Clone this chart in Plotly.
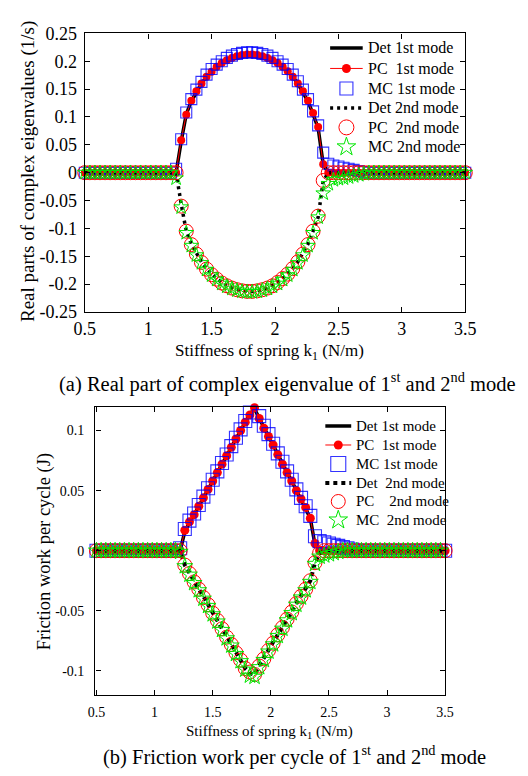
import plotly.graph_objects as go

# ---------------- data ----------------
k1 = [0.5, 0.54, 0.58, 0.62, 0.66, 0.7, 0.74, 0.78, 0.82, 0.86, 0.9, 0.94, 0.98, 1.02, 1.06, 1.1,
      1.14, 1.18, 1.22, 1.26, 1.3, 1.34, 1.38, 1.42, 1.46, 1.5, 1.54, 1.58, 1.62, 1.66, 1.7, 1.74,
      1.78, 1.82, 1.86, 1.9, 1.94, 1.98, 2.02, 2.06, 2.1, 2.14, 2.18, 2.22, 2.26, 2.3, 2.34, 2.38,
      2.42, 2.46, 2.5, 2.54, 2.58, 2.62, 2.66, 2.7, 2.74, 2.78, 2.82, 2.86, 2.9, 2.94, 2.98, 3.02,
      3.06, 3.1, 3.14, 3.18, 3.22, 3.26, 3.3, 3.34, 3.38, 3.42, 3.46, 3.5]

# (a) real part of eigenvalues
det_1st_a = [0.0] * 18 + [0.0, 0.056, 0.105, 0.128, 0.145, 0.160, 0.172, 0.182, 0.190, 0.197, 0.202, 0.207,
                          0.210, 0.212, 0.213, 0.213, 0.212, 0.210, 0.207, 0.202, 0.197, 0.190, 0.182, 0.172,
                          0.160, 0.145, 0.128, 0.105, 0.080, 0.015] + [0.0] * 28
pc_1st_a = [0.0] * 18 + [0.0, 0.058, 0.104, 0.129, 0.146, 0.160, 0.172, 0.181, 0.190, 0.197, 0.202, 0.206,
                         0.209, 0.211, 0.212, 0.212, 0.211, 0.209, 0.206, 0.202, 0.197, 0.190, 0.182, 0.172,
                         0.160, 0.146, 0.129, 0.107, 0.082, 0.015] + [0.0] * 28
mc_1st_a = [0.0] * 18 + [0.007, 0.060, 0.108, 0.132, 0.149, 0.163, 0.176, 0.186, 0.194, 0.200, 0.206, 0.210,
                         0.213, 0.215, 0.216, 0.216, 0.215, 0.213, 0.210, 0.206, 0.200, 0.194, 0.186, 0.176,
                         0.164, 0.149, 0.132, 0.110, 0.085, 0.036, 0.016, 0.013, 0.011, 0.009, 0.007, 0.005,
                         0.003, 0.001] + [0.0] * 20
det_2nd_a = [0.0] * 18 + [0.0, -0.056, -0.105, -0.128, -0.145, -0.160, -0.172, -0.182, -0.190, -0.197, -0.202,
                          -0.207, -0.210, -0.212, -0.213, -0.213, -0.212, -0.210, -0.207, -0.202, -0.197,
                          -0.190, -0.182, -0.172, -0.160, -0.145, -0.128, -0.105, -0.080, -0.015] + [0.0] * 28
pc_2nd_a = [0.0] * 18 + [0.0, -0.060, -0.105, -0.129, -0.146, -0.161, -0.173, -0.183, -0.191, -0.198, -0.203,
                         -0.207, -0.210, -0.212, -0.213, -0.213, -0.212, -0.210, -0.207, -0.203, -0.197,
                         -0.190, -0.182, -0.172, -0.160, -0.146, -0.129, -0.105, -0.078, -0.014] + [0.0] * 28
mc_2nd_a = [0.0] * 18 + [-0.010, -0.062, -0.108, -0.131, -0.148, -0.162, -0.174, -0.184, -0.192, -0.199, -0.204,
                         -0.208, -0.211, -0.213, -0.214, -0.214, -0.213, -0.211, -0.208, -0.204, -0.199,
                         -0.192, -0.184, -0.174, -0.162, -0.148, -0.131, -0.108, -0.080, -0.037, -0.020,
                         -0.013, -0.011, -0.010, -0.008, -0.006, -0.004, -0.002] + [0.0] * 20

# (b) friction work per cycle
det_1st_b = [0.0] * 18 + [0.0, 0.016, 0.023, 0.030, 0.037, 0.044, 0.051, 0.058, 0.065, 0.072, 0.079, 0.086,
                          0.093, 0.100, 0.107, 0.114, 0.118, 0.110, 0.103, 0.095, 0.088, 0.080, 0.073, 0.065,
                          0.058, 0.050, 0.043, 0.035, 0.027, 0.005] + [0.0] * 28
pc_1st_b = [0.0] * 18 + [0.0, 0.017, 0.024, 0.030, 0.037, 0.044, 0.051, 0.058, 0.065, 0.072, 0.079, 0.086,
                         0.093, 0.100, 0.107, 0.113, 0.119, 0.110, 0.102, 0.095, 0.088, 0.080, 0.072, 0.065,
                         0.058, 0.050, 0.043, 0.036, 0.027, 0.006] + [0.0] * 28
mc_1st_b = [0.0] * 18 + [0.002, 0.018, 0.025, 0.031, 0.038, 0.045, 0.052, 0.059, 0.066, 0.073, 0.080, 0.087,
                         0.094, 0.101, 0.108, 0.115, 0.121, 0.112, 0.104, 0.097, 0.089, 0.081, 0.074, 0.066,
                         0.059, 0.051, 0.044, 0.037, 0.029, 0.012, 0.008, 0.007, 0.006, 0.005, 0.004, 0.003,
                         0.002, 0.001] + [0.0] * 20
det_2nd_b = [0.0] * 18 + [0.0, -0.012, -0.019, -0.025, -0.032, -0.038, -0.045, -0.052, -0.058, -0.065, -0.071,
                          -0.078, -0.085, -0.091, -0.098, -0.102, -0.103, -0.096, -0.089, -0.083, -0.076,
                          -0.070, -0.064, -0.057, -0.051, -0.044, -0.038, -0.032, -0.025, -0.010, -0.002] + [0.0] * 27
pc_2nd_b = [0.0] * 18 + [0.0, -0.012, -0.019, -0.026, -0.032, -0.039, -0.045, -0.052, -0.058, -0.065, -0.072,
                         -0.078, -0.085, -0.091, -0.098, -0.101, -0.103, -0.096, -0.090, -0.083, -0.077,
                         -0.070, -0.064, -0.057, -0.051, -0.044, -0.038, -0.032, -0.025, -0.010, -0.002] + [0.0] * 27
mc_2nd_b = [0.0] * 18 + [-0.001, -0.013, -0.020, -0.027, -0.033, -0.040, -0.046, -0.053, -0.059, -0.066, -0.073,
                         -0.079, -0.086, -0.092, -0.099, -0.104, -0.105, -0.097, -0.091, -0.084, -0.078,
                         -0.071, -0.065, -0.058, -0.052, -0.045, -0.039, -0.033, -0.026, -0.011, -0.005,
                         -0.004, -0.003, -0.002, -0.001] + [0.0] * 22

xticks = [0.5, 1, 1.5, 2, 2.5, 3, 3.5]
xtick_text = ["0.5", "1", "1.5", "2", "2.5", "3", "3.5"]
yticks_a = [0.25, 0.2, 0.15, 0.1, 0.05, 0, -0.05, -0.1, -0.15, -0.2, -0.25]
ytick_text_a = ["0.25", "0.2", "0.15", "0.1", "0.05", "0", "-0.05", "-0.1", "-0.15", "-0.2", "-0.25"]
yticks_b = [0.1, 0.05, 0, -0.05, -0.1]
ytick_text_b = ["0.1", "0.05", "0", "-0.05", "-0.1"]

names_a = ["Det 1st mode", "PC\u00a0\u00a01st mode", "MC 1st mode",
           "Det 2nd mode", "PC\u00a0\u00a02nd mode", "MC 2nd mode"]
names_b = ["Det 1st mode", "PC\u00a0\u00a01st mode", "MC 1st mode",
           "Det\u00a0\u00a02nd mode", "PC\u00a0\u00a0\u00a0\u00a02nd mode", "MC\u00a0\u00a02nd mode"]

FONT = "Liberation Serif, Times New Roman, serif"
W, H = 528, 776
BLUE = "rgba(0,0,255,0.8)"
GREEN = "#00e600"

fig = go.Figure()


def styles(sizes, dotdash, dotw):
    sq, dot, circ, star = sizes
    return [
        dict(mode="lines", line=dict(color="black", width=3.5)),
        dict(mode="lines+markers", line=dict(color="red", width=1),
             marker=dict(symbol="circle", size=dot, color="red")),
        dict(mode="markers", marker=dict(symbol="square-open", size=sq, color=BLUE, line=dict(width=1.1))),
        dict(mode="lines", line=dict(color="black", width=dotw, dash=dotdash)),
        dict(mode="markers", marker=dict(symbol="circle-open", size=circ, color="red", line=dict(width=1))),
        dict(mode="markers", marker=dict(symbol="star-open", size=star, color=GREEN, line=dict(width=1))),
    ]


def add_set(xa, ya, names, series, st):
    for nm, ys, s in zip(names, series, st):
        fig.add_trace(go.Scatter(x=k1, y=ys, name=nm, xaxis=xa, yaxis=ya, showlegend=False,
                                 cliponaxis=False, **s))


st_a = styles((11, 8, 14, 11), "3px,4px", 3.5)
st_b = styles((13, 9, 14, 12), "4px,4px", 4)
add_set("x", "y", names_a, [det_1st_a, pc_1st_a, mc_1st_a, det_2nd_a, pc_2nd_a, mc_2nd_a], st_a)
add_set("x2", "y2", names_b, [det_1st_b, pc_1st_b, mc_1st_b, det_2nd_b, pc_2nd_b, mc_2nd_b], st_b)


def px_x(p):
    return p / W


def px_y(p):
    return 1 - p / H


# ---- hand-built legends (pixel overlay axis) ----
legend_annots = []


def add_legend(names, st, x_line0, x_line1, x_text, rows, fsize, msizes):
    xm = (x_line0 + x_line1) / 2
    for i, (nm, s, yr) in enumerate(zip(names, st, rows)):
        s = {k: (dict(v) if isinstance(v, dict) else v) for k, v in s.items()}
        if "marker" in s:
            s["marker"] = dict(s["marker"], size=msizes[i])
        if s["mode"] == "markers":
            xs, ys = [xm], [yr]
        elif s["mode"] == "lines":
            xs, ys = [x_line0, x_line1], [yr, yr]
        else:
            s.pop("marker")
            s["mode"] = "lines"
            fig.add_trace(go.Scatter(x=[x_line0, x_line1], y=[yr, yr], xaxis="x3", yaxis="y3",
                                     showlegend=False, hoverinfo="skip", **s))
            xs, ys = [xm], [yr]
            s = dict(mode="markers", marker=dict(symbol="circle", size=msizes[i], color="red"))
        fig.add_trace(go.Scatter(x=xs, y=ys, xaxis="x3", yaxis="y3", showlegend=False,
                                 hoverinfo="skip", cliponaxis=False, **s))
        legend_annots.append(dict(x=px_x(x_text), y=px_y(yr), text=nm, xanchor="left", yanchor="middle",
                                  font=dict(size=fsize)))


add_legend(names_a, st_a, 333, 367, 370, [39, 60, 80.5, 100.5, 120.5, 140.5], 16, [0, 9, 13, 0, 15, 14])
add_legend(names_b, st_b, 328, 355, 358, [427, 446.5, 466, 485.5, 504.5, 523.5], 15, [0, 9, 15, 0, 14, 14])

axis_common = dict(showline=True, linecolor="black", linewidth=1.4, mirror="ticks", ticks="inside",
                   ticklen=5, tickcolor="black", showgrid=False, zeroline=False)

fig.update_layout(
    width=W, height=H, margin=dict(l=0, r=0, t=0, b=0),
    paper_bgcolor="white", plot_bgcolor="rgba(0,0,0,0)",
    font=dict(family=FONT, color="black"),
    showlegend=False,
    xaxis=dict(domain=[px_x(77), px_x(474)], range=[0.5, 3.5], anchor="y",
               tickvals=xticks, ticktext=xtick_text, tickfont=dict(size=18), ticklabelstandoff=0,
               **axis_common),
    yaxis=dict(domain=[px_y(310), px_y(24)], range=[-0.25, 0.25], anchor="x",
               tickvals=yticks_a, ticktext=ytick_text_a, tickfont=dict(size=18), ticklabelstandoff=3,
               **axis_common),
    xaxis2=dict(domain=[px_x(88), px_x(453)], range=[0.49, 3.5], anchor="y2",
                tickvals=xticks, ticktext=xtick_text, tickfont=dict(size=14), ticklabelstandoff=4,
                **axis_common),
    yaxis2=dict(domain=[px_y(703), px_y(407)], range=[-0.12, 0.12], anchor="x2",
                tickvals=yticks_b, ticktext=ytick_text_b, tickfont=dict(size=14), ticklabelstandoff=7,
                **axis_common),
    xaxis3=dict(domain=[0, 1], range=[0, W], anchor="y3", visible=False, fixedrange=True),
    yaxis3=dict(domain=[0, 1], range=[H, 0], anchor="x3", visible=False, fixedrange=True),
)

annotations = [
    dict(x=px_x(270), y=px_y(351), text="Stiffness of spring k<sub>1</sub> (N/m)", font=dict(size=17)),
    dict(x=px_x(17), y=px_y(166), text="Real parts of complex eigenvalues (1/s)", textangle=-90,
         font=dict(size=19)),
    dict(x=px_x(288), y=px_y(382),
         text="(a) Real part of complex eigenvalue of 1<sup>st</sup> and 2<sup>nd</sup> mode",
         font=dict(size=20.5)),
    dict(x=px_x(270), y=px_y(741), text="Stiffness of spring k<sub>1</sub> (N/m)", font=dict(size=15)),
    dict(x=px_x(35), y=px_y(556), text="Friction work per cycle (J)", textangle=-90, font=dict(size=18.5)),
    dict(x=px_x(296), y=px_y(765),
         text="(b) Friction work per cycle of 1<sup>st</sup> and 2<sup>nd</sup> mode",
         font=dict(size=20.5)),
] + legend_annots
for a in annotations:
    a.setdefault("xanchor", "center")
    a.setdefault("yanchor", "middle")
    a.update(xref="paper", yref="paper", showarrow=False)
    a["font"]["family"] = FONT
    a["font"]["color"] = "black"
fig.update_layout(annotations=annotations)

fig.write_html("out.html")
